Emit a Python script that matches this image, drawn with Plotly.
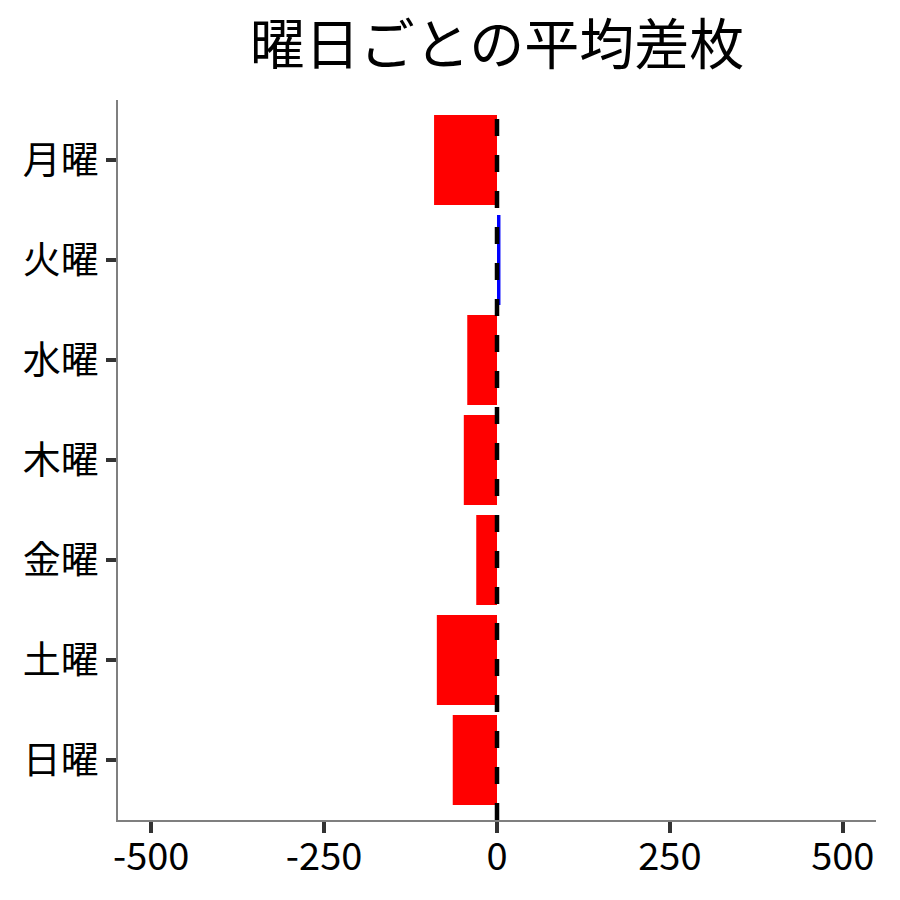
import plotly.graph_objects as go

# --- datos ---
dias = ["月曜", "火曜", "水曜", "木曜", "金曜", "土曜", "日曜"]
diferencia = [-91, 5, -43, -48, -30, -87, -64]
tick_vals = [-500, -250, 0, 250, 500]
tick_text = ["-500", "-250", "0", "250", "500"]

FONT = "Noto Sans CJK JP"
colores = ["blue" if v > 0 else "red" for v in diferencia]

fig = go.Figure()
fig.add_trace(go.Bar(
    x=diferencia,
    y=dias,
    orientation="h",
    marker=dict(color=colores, line=dict(width=0)),
    width=0.9,
    showlegend=False,
))

# linea de referencia en cero
fig.add_shape(
    type="line", xref="x", yref="paper",
    x0=0, x1=0, y0=0, y1=1,
    line=dict(color="black", width=4.5, dash="17px,19px"),
    layer="above",
)

fig.update_layout(
    width=900, height=900,
    title=dict(text="曜日ごとの平均差枚", x=0.5, xref="paper", xanchor="center",
               y=0.959, yanchor="middle",
               font=dict(family=FONT, size=55, color="black")),
    font=dict(family=FONT, color="black"),
    plot_bgcolor="white",
    paper_bgcolor="white",
    margin=dict(l=110, r=32, t=92, b=88),
    bargap=0.1,
    xaxis=dict(
        range=[-548, 548],
        tickvals=tick_vals, ticktext=tick_text,
        showgrid=False, zeroline=False,
        showline=True, linecolor="#7f7f7f", linewidth=1.5,
        ticks="outside", ticklen=11, tickwidth=3.5, tickcolor="#333333",
        ticklabelstandoff=-8,
        tickfont=dict(family=FONT, size=38, color="black"),
    ),
    yaxis=dict(
        type="category",
        categoryorder="array", categoryarray=dias,
        range=[6.6, -0.6],
        showgrid=False, zeroline=False,
        showline=True, linecolor="#7f7f7f", linewidth=1.5,
        ticks="outside", ticklen=10, tickwidth=3.5, tickcolor="#333333",
        tickfont=dict(family=FONT, size=38, color="black"),
    ),
)

fig.write_html("out.html")
